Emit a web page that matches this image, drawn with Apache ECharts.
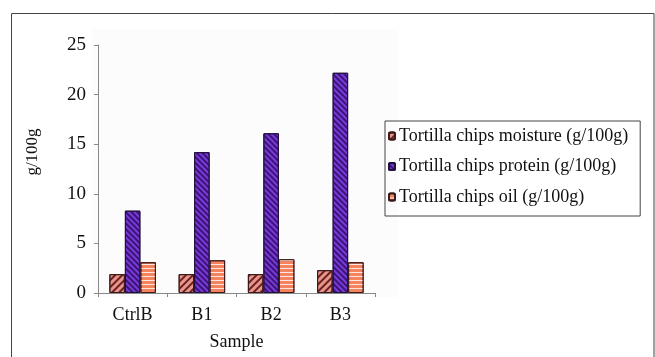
<!DOCTYPE html>
<html>
<head>
<meta charset="utf-8">
<script src="https://cdn.jsdelivr.net/npm/echarts@6/dist/echarts.min.js"></script>
<style>html,body{margin:0;padding:0;background:#fff;}#c{width:655px;height:357px;}</style>
</head>
<body>
<div id="c"></div>
<script>
const categories = ['CtrlB', 'B1', 'B2', 'B3'];
const seriesNames = ['Tortilla chips moisture (g/100g)', 'Tortilla chips protein (g/100g)', 'Tortilla chips oil (g/100g)'];
const moisture = [1.9, 1.9, 1.9, 2.3];
const protein = [8.3, 14.2, 16.1, 22.2];
const oil = [3.1, 3.3, 3.4, 3.1];
const yTicks = [0, 5, 10, 15, 20, 25];
const yTitle = 'g/100g';
const xTitle = 'Sample';

const font = 'Liberation Serif';
const chart = echarts.init(document.getElementById('c'), null, {renderer: 'canvas'});
const barBase = {type: 'bar', barWidth: 15.5, barGap: '0%'};
chart.setOption({
  animation: false,
  graphic: [
    {type: 'rect', shape: {x: 11.5, y: 13.5, width: 642.5, height: 360}, style: {fill: 'none', stroke: '#444', lineWidth: 1}},
    {type: 'rect', shape: {x: 92, y: 29, width: 306, height: 268}, style: {fill: '#fcfcfc'}, z: -1},
    {type: 'text', x: 33, y: 152, rotation: Math.PI / 2, style: {text: yTitle, font: '17px "Liberation Serif"', fill: '#111', textAlign: 'center', textVerticalAlign: 'middle'}}
  ],
  grid: {left: 98, right: 280, top: 45, bottom: 64},
  legend: {
    orient: 'vertical', left: 385, top: 121,
    borderColor: '#444', borderWidth: 1,
    padding: [6, 12, 10, 3],
    itemWidth: 6, itemHeight: 7, itemGap: 12.5,
    textStyle: {fontFamily: font, fontSize: 18, color: '#111', padding: [0, 0, 0, -1]},
    data: seriesNames
  },
  xAxis: {
    type: 'category', data: categories,
    name: xTitle, nameLocation: 'middle', nameGap: 40,
    nameTextStyle: {fontFamily: font, fontSize: 18, color: '#111'},
    axisLine: {lineStyle: {color: '#888'}},
    axisTick: {show: true, lineStyle: {color: '#888'}, length: 4},
    axisLabel: {fontFamily: font, fontSize: 18, color: '#111', margin: 13}
  },
  yAxis: {
    type: 'value', min: yTicks[0], max: yTicks[yTicks.length - 1], interval: 5,
    splitLine: {show: false},
    axisLine: {show: true, lineStyle: {color: '#888'}},
    axisTick: {show: true, lineStyle: {color: '#888'}, length: 4},
    axisLabel: {fontFamily: font, fontSize: 19, color: '#111', margin: 12}
  },
  series: [
    Object.assign({}, barBase, {
      name: seriesNames[0], data: moisture,
      itemStyle: {color: '#e8958a', borderColor: '#3a1a1a', borderWidth: 1,
        decal: {symbol: 'rect', symbolSize: 1, dashArrayX: [1, 0], dashArrayY: [2, 3], rotation: -Math.PI / 4, color: '#6a2020'}}
    }),
    Object.assign({}, barBase, {
      name: seriesNames[1], data: protein,
      itemStyle: {color: '#7a3ad8', borderColor: '#20103a', borderWidth: 1,
        decal: {symbol: 'rect', symbolSize: 1, dashArrayX: [1, 0], dashArrayY: [2, 2], rotation: Math.PI / 4, color: '#3a1478'}}
    }),
    Object.assign({}, barBase, {
      name: seriesNames[2], data: oil,
      itemStyle: {color: '#f5835e', borderColor: '#3a1a1a', borderWidth: 1,
        decal: {symbol: 'rect', symbolSize: 1, dashArrayX: [1, 0], dashArrayY: [1, 3], rotation: 0, color: 'rgba(255,255,255,0.8)'}}
    })
  ]
});
</script>
</body>
</html>
